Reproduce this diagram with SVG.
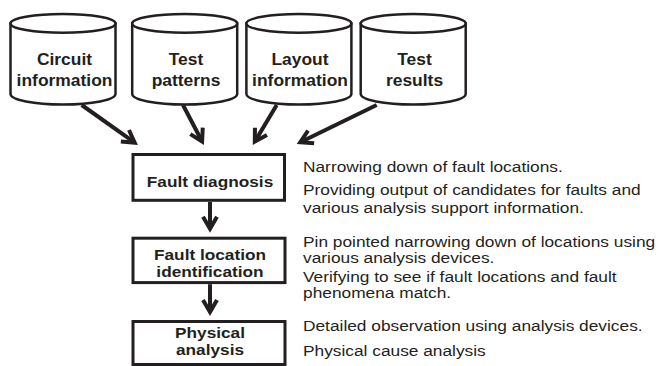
<svg xmlns="http://www.w3.org/2000/svg" width="662" height="366" viewBox="0 0 662 366">
<style>
.cyl{fill:#fff;stroke:#231f20;stroke-width:2.5}
.box{fill:#fff;stroke:#231f20;stroke-width:3}
.lbl{font-family:"Liberation Sans",Arial,sans-serif;font-weight:bold;font-size:16px;fill:#231f20;text-anchor:middle}
.blbl{font-family:"Liberation Sans",Arial,sans-serif;font-weight:bold;font-size:15px;fill:#231f20;text-anchor:middle}
.desc{font-family:"Liberation Sans",Arial,sans-serif;font-size:15px;fill:#231f20}
.conn{fill:none;stroke:#231f20;stroke-width:4;marker-end:url(#ah)}
</style>
<defs>
<marker id="ah" viewBox="-20 -12 26 24" refX="0" refY="0" markerWidth="26" markerHeight="24" markerUnits="userSpaceOnUse" orient="auto" overflow="visible">
<path d="M-12,-7 L0,0 L-12,7" fill="none" stroke="#231f20" stroke-width="4" stroke-linejoin="miter" stroke-miterlimit="10"/>
</marker>
</defs>
<g id="circuit-information">
<path class="cyl" d="M10.5,23.4 L10.5,94 A52.5,10.5 0 0 0 115.5,94 L115.5,23.4 Z"/>
<ellipse class="cyl" cx="63" cy="23.4" rx="52.5" ry="9.4"/>
<text class="lbl" transform="translate(64.5,65) scale(1.09,1)">Circuit</text>
<text class="lbl" transform="translate(64.5,85.5) scale(1.09,1)">information</text>
</g>
<g id="test-patterns">
<path class="cyl" d="M132.2,23.4 L132.2,94 A52.5,10.5 0 0 0 237.2,94 L237.2,23.4 Z"/>
<ellipse class="cyl" cx="184.7" cy="23.4" rx="52.5" ry="9.4"/>
<text class="lbl" transform="translate(186,65) scale(1.09,1)">Test</text>
<text class="lbl" transform="translate(186,85.5) scale(1.09,1)">patterns</text>
</g>
<g id="layout-information">
<path class="cyl" d="M246.4,23.4 L246.4,94 A52.5,10.5 0 0 0 351.4,94 L351.4,23.4 Z"/>
<ellipse class="cyl" cx="298.9" cy="23.4" rx="52.5" ry="9.4"/>
<text class="lbl" transform="translate(300,65) scale(1.09,1)">Layout</text>
<text class="lbl" transform="translate(300,85.5) scale(1.09,1)">information</text>
</g>
<g id="test-results">
<path class="cyl" d="M360.7,23.4 L360.7,94 A52.5,10.5 0 0 0 465.7,94 L465.7,23.4 Z"/>
<ellipse class="cyl" cx="413.2" cy="23.4" rx="52.5" ry="9.4"/>
<text class="lbl" transform="translate(414.5,65) scale(1.09,1)">Test</text>
<text class="lbl" transform="translate(414.5,85.5) scale(1.09,1)">results</text>
</g>
<g id="fault-diagnosis">
<rect class="box" x="133" y="154.5" width="151.5" height="45.8"/>
<text class="blbl" transform="translate(210,186.7) scale(1.15,1)">Fault diagnosis</text>
</g>
<g id="fault-location-identification">
<rect class="box" x="133" y="238.2" width="152" height="44.4"/>
<text class="blbl" transform="translate(210,260) scale(1.15,1)">Fault location</text>
<text class="blbl" transform="translate(210,277) scale(1.15,1)">identification</text>
</g>
<g id="physical-analysis">
<rect class="box" x="133" y="321.5" width="152" height="43"/>
<text class="blbl" transform="translate(210,338.3) scale(1.15,1)">Physical</text>
<text class="blbl" transform="translate(210,355) scale(1.15,1)">analysis</text>
</g>
<g id="connectors">
<line class="conn" x1="81.7" y1="105" x2="134.7" y2="142.7"/>
<line class="conn" x1="183" y1="105" x2="202.1" y2="141.5"/>
<line class="conn" x1="276.7" y1="105" x2="254.8" y2="141.6"/>
<line class="conn" x1="376.7" y1="105" x2="300.3" y2="142.2"/>
<line class="conn" x1="210" y1="202" x2="210" y2="228.7"/>
<line class="conn" x1="210" y1="284.2" x2="210" y2="312"/>
</g>
<g id="descriptions">
<text class="desc" transform="translate(303,171.7) scale(1.155,1)">Narrowing down of fault locations.</text>
<text class="desc" transform="translate(303,195) scale(1.155,1)">Providing output of candidates for faults and</text>
<text class="desc" transform="translate(303,213.3) scale(1.155,1)">various analysis support information.</text>
<text class="desc" transform="translate(303,246.7) scale(1.155,1)">Pin pointed narrowing down of locations using</text>
<text class="desc" transform="translate(303,263.3) scale(1.155,1)">various analysis devices.</text>
<text class="desc" transform="translate(303,281.7) scale(1.155,1)">Verifying to see if fault locations and fault</text>
<text class="desc" transform="translate(303,298.3) scale(1.155,1)">phenomena match.</text>
<text class="desc" transform="translate(303,330.7) scale(1.155,1)">Detailed observation using analysis devices.</text>
<text class="desc" transform="translate(303,356) scale(1.155,1)">Physical cause analysis</text>
</g>
</svg>
